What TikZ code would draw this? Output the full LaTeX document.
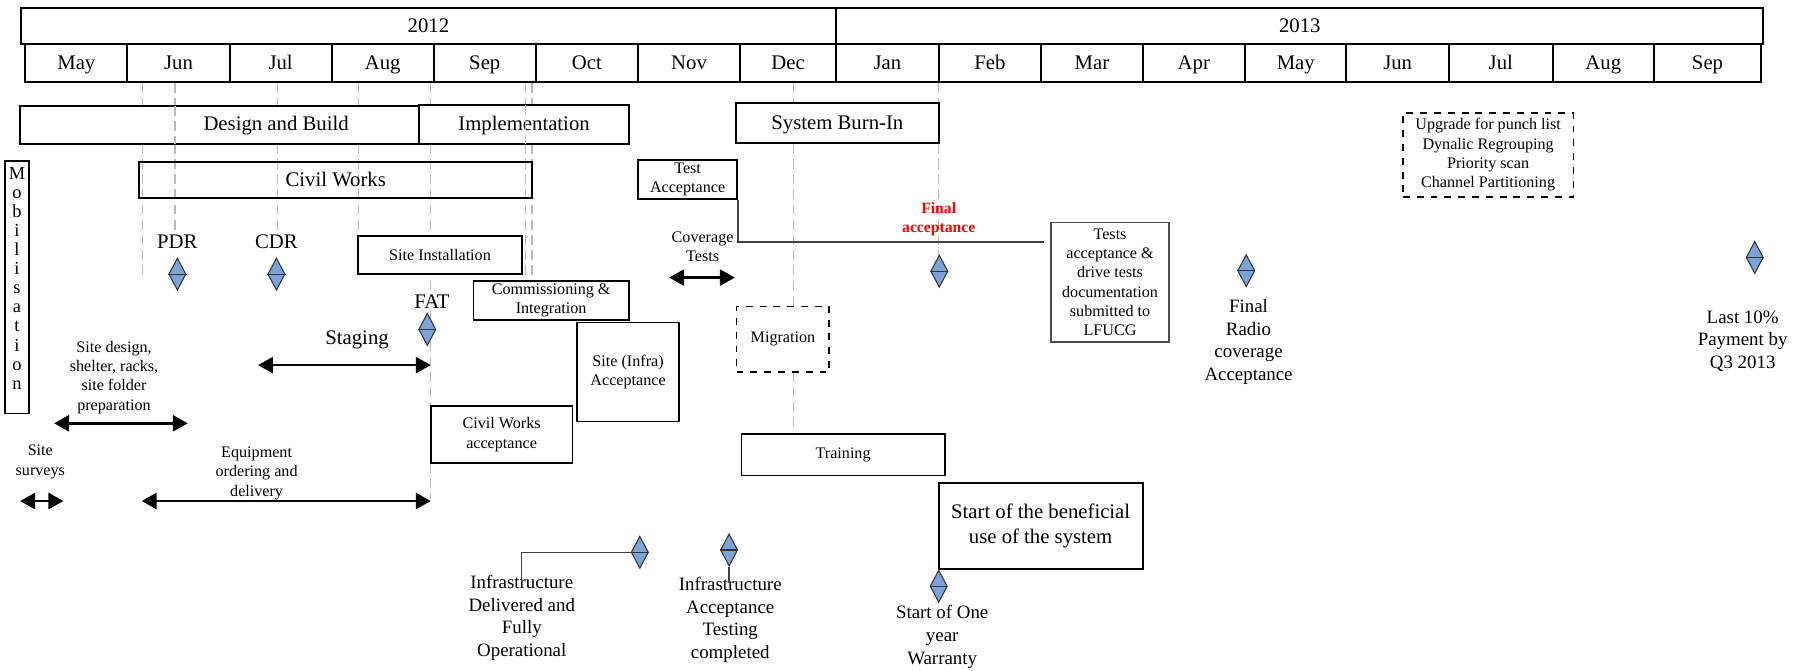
\documentclass[tikz,border=0pt]{standalone}
\usepackage{fontspec}
\setmainfont{Liberation Serif}
\usetikzlibrary{shapes.geometric,arrows.meta}
\definecolor{dia}{RGB}{124,164,216}
\definecolor{guidec}{RGB}{185,185,185}
\begin{document}
\begin{tikzpicture}[x=0.5pt,y=-0.5pt,
  box/.style={draw, line width=0.7pt, inner sep=0pt, align=center},
  hbox/.style={box, line width=0.85pt, font=\fontsize{9}{11}\selectfont, text height=6.6pt, text depth=1.4pt},
  big/.style={font=\fontsize{9}{11}\selectfont, align=center, inner sep=0.5pt},
  small/.style={font=\fontsize{7}{8.4}\selectfont, align=center},
  med/.style={font=\fontsize{8.2}{9.8}\selectfont, align=center, inner sep=0.5pt},
  guide/.style={guidec, line width=0.55pt, dash pattern=on 4.3pt off 2.3pt},
  conn/.style={black!75, line width=0.55pt},
  dbl/.style={{Triangle[length=6.5pt,width=7pt]}-{Triangle[length=6.5pt,width=7pt]}, line width=1.1pt},
  mile/.style={diamond, draw=black!80, fill=dia, line width=0.45pt, minimum width=7.5pt, minimum height=14pt, inner sep=0pt, aspect=0.5}
]
\useasboundingbox (0,0) rectangle (1568,582);

% dashed guide lines
\draw[guide] (123.6,72) -- (123.6,240);
\draw[guide] (152,72) -- (152,201);
\draw[guide] (240.7,72) -- (240.7,201);
\draw[guide] (311,72) -- (311,205);
\draw[guide] (374,72) -- (374,433);
\draw[guide] (456,72) -- (456,243);
\draw[guide] (462,72) -- (462,243);
\draw[guide] (689,72) -- (689,373);
\draw[guide] (815,72) -- (815,222);

% header
\node[hbox, minimum width=354pt, minimum height=15.75pt] (y12) at (372,22.75) {2012};
\node[hbox, minimum width=402.5pt, minimum height=15.75pt] (y13) at (1128.5,22.75) {2013};
\foreach \l/\r/\t [count=\i] in {22/110.6/May,110.6/199.3/Jun,199.3/288/Jul,288/376.6/Aug,376.6/465.2/Sep,465.2/553.9/Oct,553.9/642.6/Nov,642.6/726/Dec,726/815/Jan,815/904/Feb,904/992/Mar,992/1081/Apr,1081/1169/May,1169/1258/Jun,1258/1348/Jul,1348/1436/Aug,1436/1529/Sep}
  \node[hbox, minimum width={(\r-\l)*0.5pt}, minimum height=16.5pt] (m\i) at ({(\l+\r)/2},55) {\t};

% phase boxes
\node[hbox, fill=white, minimum width=222.3pt, minimum height=16.5pt] (db) at (239.7,108.5) {Design and Build};
\node[hbox, fill=white, minimum width=91pt, minimum height=17pt] (impl) at (455,108) {Implementation};
\draw[guide] (152,92) -- (152,125);
\draw[guide] (456,91) -- (456,125);
\node[hbox, fill=white, minimum width=88pt, minimum height=17.15pt] (burn) at (727,106.85) {System Burn-In};
\node[hbox, minimum width=170.5pt, minimum height=15.5pt] (cw) at (291.5,156.5) {Civil Works};

% mobilisation
\node[box, minimum width=10.2pt, minimum height=109.5pt] (mobbox) at (14.8,249.5) {};
\node[font=\fontsize{8}{8.3}\selectfont, align=center, inner sep=0pt] (mob) at (14.8,241.5) {M\\o\\b\\i\\l\\i\\s\\a\\t\\i\\o\\n};

% smaller boxes
\node[box, small, fill=white, minimum width=43pt, minimum height=17pt] (ta) at (597,156) {Test\\Acceptance};
\node[box, small, fill=white, minimum width=71pt, minimum height=16.5pt] (si) at (382,221.5) {Site Installation};
\node[box, small, fill=white, minimum width=67.5pt, minimum height=17pt] (ci) at (478.5,261) {Commissioning \&\\Integration};
\node[box, small, fill=white, minimum width=44.3pt, minimum height=43pt] (sia) at (545.3,323) {Site (Infra)\\Acceptance};
\node[box, small, fill=white, minimum width=61.5pt, minimum height=24.75pt] (cwa) at (435.5,377.25) {Civil Works\\acceptance};
\node[box, small, dashed, fill=white, minimum width=40.25pt, minimum height=28.5pt] (mig) at (679.75,294.5) {Migration};
\node[box, small, fill=white, minimum width=88.25pt, minimum height=18pt] (tr) at (732,395) {Training};
\node[box, line width=0.85pt, font=\fontsize{9}{11}\selectfont, minimum width=88.5pt, minimum height=37.25pt] (ben) at (903.5,456.75) {Start of the beneficial\\use of the system};
\node[box, small, draw=black!70, line width=0.6pt, minimum width=51.25pt, minimum height=52pt] (tad) at (963.75,245) {Tests\\acceptance \&\\drive tests\\documentation\\submitted to\\LFUCG};
\node[box, small, dashed, minimum width=74pt, minimum height=36.5pt] (upg) at (1292,134.5) {Upgrade for punch list\\Dynalic Regrouping\\Priority scan\\Channel Partitioning};

% labels
\node[big] (pdr) at (154,210) {PDR};
\node[big] (cdr) at (240,210) {CDR};
\node[big, fill=white] (fat) at (375,262) {FAT};
\node[big] (stg) at (310,295) {Staging};
\node[small] (sdes) at (99,327.5) {Site design,\\shelter, racks,\\site folder\\preparation};
\node[small] (ssur) at (35,401) {Site\\surveys};
\node[small] (equ) at (222.8,411) {Equipment\\ordering and\\delivery};
\node[small] (cov) at (610,214) {Coverage\\Tests};
\node[font=\bfseries\fontsize{6.8}{8.5}\selectfont, text=red, align=center] (fa) at (815,190.5) {Final\\acceptance};
\node[med] (idt) at (453,536.5) {Infrastructure\\Delivered and\\Fully\\Operational};
\node[med] (itt) at (634,538) {Infrastructure\\Acceptance\\Testing\\completed};
\node[med] (wt) at (818,553) {Start of One\\year\\Warranty};
\node[med] (frt) at (1084,297) {Final\\Radio\\coverage\\Acceptance};
\node[med] (lpt) at (1513,296) {Last 10\%\\Payment by\\Q3 2013};

% milestones
\node[mile] (dpdr) at (154,238) {};
\node[mile] (dcdr) at (240,238) {};
\node[mile] (dfat) at (371,286) {};
\node[mile] (dfa) at (815.5,235.5) {};
\node[mile] (dfr) at (1082,235) {};
\node[mile] (dlp) at (1523.5,223.5) {};
\node[mile] (dinf) at (555.5,479.5) {};
\node[mile] (dtest) at (633,477.5) {};
\node[mile] (dwar) at (815,509) {};
\foreach \d in {dpdr,dcdr,dfat,dfa,dfr,dlp,dinf,dtest,dwar}
  \draw[black!80, line width=0.5pt] (\d.west) -- (\d.east);

% connectors
\coordinate (taend) at (906.5,210);
\draw[conn] (ta.south east) |- (taend);
\coordinate (idl) at (453,505);
\draw[conn] (dinf.west) -| (idl);
\coordinate (itl) at (633,506);
\draw[conn] (dtest.south) -- (itl);

% arrows
\coordinate (sd1) at (47,367.5); \coordinate (sd2) at (163,367.5);
\draw[dbl] (sd1) -- (sd2);
\coordinate (ss1) at (17.5,435); \coordinate (ss2) at (55,435);
\draw[dbl] (ss1) -- (ss2);
\coordinate (eq1) at (123,435); \coordinate (eq2) at (374,435);
\draw[dbl] (eq1) -- (eq2);
\coordinate (st1) at (224,317); \coordinate (st2) at (374,317);
\draw[dbl] (st1) -- (st2);
\coordinate (cv1) at (581,241); \coordinate (cv2) at (638,241);
\draw[dbl] (cv1) -- (cv2);
\end{tikzpicture}
\end{document}
